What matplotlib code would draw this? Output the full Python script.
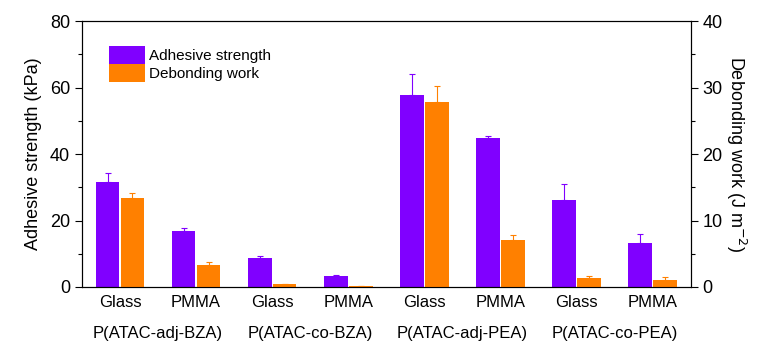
import numpy as np
import matplotlib.pyplot as plt
from matplotlib.ticker import MultipleLocator
from matplotlib.transforms import blended_transform_factory

plt.rcParams['font.family'] = ['Liberation Sans', 'DejaVu Sans']

substrates = ['Glass', 'PMMA', 'Glass', 'PMMA', 'Glass', 'PMMA', 'Glass', 'PMMA']
polymers = ['P(ATAC-adj-BZA)', 'P(ATAC-co-BZA)', 'P(ATAC-adj-PEA)', 'P(ATAC-co-PEA)']

strength = [31.5, 16.8, 8.7, 3.3, 57.9, 44.7, 26.2, 13.2]          # kPa
strength_err = [2.7, 1.1, 0.6, 0.3, 6.1, 0.7, 4.8, 2.6]
work = [13.4, 3.3, 0.45, 0.15, 27.8, 7.07, 1.4, 1.05]              # J m-2
work_err = [0.7, 0.4, 0.0, 0.0, 2.5, 0.75, 0.25, 0.45]

purple = '#8000FF'
orange = '#FF8000'

fig = plt.figure(figsize=(7.59, 3.53), dpi=100)
ax = fig.add_axes([0.108, 0.187, 0.802, 0.753])
ax2 = ax.twinx()

x = np.arange(1, len(substrates) + 1)
w = 0.31
off = 0.164

ax.bar(x - off, strength, w, color=purple, label='Adhesive strength',
       yerr=[np.zeros(len(x)), strength_err], capsize=2,
       error_kw=dict(ecolor=purple, elinewidth=0.8, capthick=0.8))
ax2.bar(x + off, work, w, color=orange, label='Debonding work',
        yerr=[np.zeros(len(x)), work_err], capsize=2,
        error_kw=dict(ecolor=orange, elinewidth=0.8, capthick=0.8))

ax.set_xlim(0.5, 8.5)
ax.set_ylim(0, 80)
ax2.set_ylim(0, 40)

ax.yaxis.set_major_locator(MultipleLocator(20))
ax.yaxis.set_minor_locator(MultipleLocator(10))
ax2.yaxis.set_major_locator(MultipleLocator(10))
ax2.yaxis.set_minor_locator(MultipleLocator(5))

ax.tick_params(axis='y', direction='out', length=5, width=0.8, labelsize=13)
ax.tick_params(axis='y', which='minor', direction='out', length=3, width=0.8)
ax2.tick_params(axis='y', direction='out', length=5, width=0.8, labelsize=13)
ax2.tick_params(axis='y', which='minor', direction='out', length=3, width=0.8)

ax.set_xticks(x)
ax.set_xticklabels(substrates, fontsize=12)
ax.tick_params(axis='x', length=0, pad=6)

trans = blended_transform_factory(ax.transData, ax.transAxes)
for i, name in enumerate(polymers):
    ax.text(2 * i + 1.5, -0.175, name, transform=trans, ha='center', va='center', fontsize=12)

ax.set_ylabel('Adhesive strength (kPa)', fontsize=13, labelpad=6)
ax2.set_ylabel('Debonding work (J m$^{-2}$)', fontsize=13, rotation=270, labelpad=18)

h1, l1 = ax.get_legend_handles_labels()
h2, l2 = ax2.get_legend_handles_labels()
ax.legend(h1 + h2, l1 + l2, loc='upper left', bbox_to_anchor=(0.035, 0.93), frameon=False,
          fontsize=11, handlelength=2.3, handleheight=1.45, handletextpad=0.3,
          labelspacing=0.0, borderaxespad=0)

for a in (ax, ax2):
    for s in a.spines.values():
        s.set_linewidth(0.8)

fig.savefig('out.png', dpi=100)
